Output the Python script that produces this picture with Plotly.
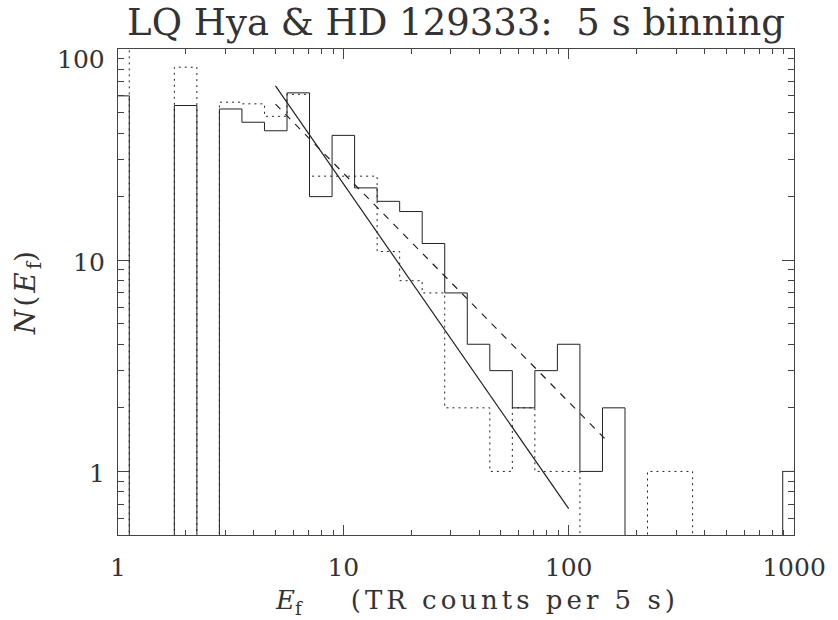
import math
import plotly.graph_objects as go

# ---- data ----
# histogram bins: centres in log10(E_f), bin width 0.1 dex
bin_log_centres = [0.0, 0.1, 0.2, 0.3, 0.4, 0.5, 0.6, 0.7, 0.8, 0.9,
                   1.0, 1.1, 1.2, 1.3, 1.4, 1.5, 1.6, 1.7, 1.8, 1.9,
                   2.0, 2.1, 2.2, 2.3, 2.4, 2.5, 2.6, 2.7, 2.8, 2.9, 3.0]
bin_width_dex = 0.1
counts_solid = [60, 0, 0, 54, 0, 52, 45, 41, 62, 20,
                39, 22, 19, 17, 12, 7, 4, 3, 2, 3,
                4, 1, 2, 0, 0, 0, 0, 0, 0, 0, 1]
counts_dotted = [130, 0, 0, 82, 0, 56, 55, 48, 61, 25,
                 25, 25, 11, 8, 7, 2, 2, 1, 2, 1,
                 1, 0, 0, 0, 1, 1, 0, 0, 0, 0, 0]

# power-law fits (end points)
fit_solid_E = [5.0, 100.0]
fit_solid_N = [66.9, 0.667]
fit_dashed_E = [5.0, 150.0]
fit_dashed_N = [54.8, 1.375]

x_tickvals = [1, 10, 100, 1000]
x_ticktext = ["1", "10", "100", "1000"]
y_tickvals = [1, 10, 100]
y_ticktext = ["1", "10", "100"]

title_text = "LQ Hya &amp; HD 129333:  5 s binning"
SUB_F = '<span style="font-size:70%;baseline-shift:-0.32em">f</span>'
x_title = ('<i>E</i>' + SUB_F +
           '<span style="letter-spacing:4px">    (TR counts per 5 s)</span>')
y_title = ('<span style="letter-spacing:3px"><i>N</i>(<i>E</i></span>' + SUB_F +
           '<span style="letter-spacing:3px">)</span>')

# ---- helpers ----
FLOOR = 1e-3  # empty bins drawn below the axis


def steps(counts):
    xs = [10 ** (c - bin_width_dex / 2) for c in bin_log_centres]
    xs.append(10 ** (bin_log_centres[-1] + bin_width_dex / 2))
    ys = [v if v > 0 else FLOOR for v in counts]
    ys.append(ys[-1])
    return xs, ys


def minor_vals(lo_exp, hi_exp, lo, hi):
    out = []
    for e in range(lo_exp, hi_exp + 1):
        for d in range(2, 10):
            v = d * 10 ** e
            if lo <= v <= hi:
                out.append(v)
    return out


INK = "#222222"
TXT = "#333333"
FONT = "DejaVu Serif"
W, H = 838, 620
L, R, T, B = 118, 35, 49, 85
PW, PH = W - L - R, H - T - B

fig = go.Figure()
xs, ys = steps(counts_dotted)
fig.add_trace(go.Scatter(x=xs, y=ys, mode="lines", line=dict(shape="hv", color=INK, width=1, dash="2px,4px"),
                         showlegend=False, hoverinfo="skip"))
xs, ys = steps(counts_solid)
fig.add_trace(go.Scatter(x=xs, y=ys, mode="lines", line=dict(shape="hv", color=INK, width=1),
                         showlegend=False, hoverinfo="skip"))
fig.add_trace(go.Scatter(x=fit_solid_E, y=fit_solid_N, mode="lines", line=dict(color=INK, width=1.2),
                         showlegend=False, hoverinfo="skip"))
fig.add_trace(go.Scatter(x=fit_dashed_E, y=fit_dashed_N, mode="lines",
                         line=dict(color=INK, width=1.2, dash="7px,7px"),
                         showlegend=False, hoverinfo="skip"))

axis_common = dict(type="log", showgrid=False, zeroline=False, showline=True, linecolor="#444444",
                   linewidth=1, mirror="allticks", ticks="inside", tickcolor="#444444",
                   tickfont=dict(family=FONT, size=25, color=TXT), tickmode="array")

fig.update_xaxes(**axis_common, range=[0, 3], tickvals=x_tickvals, ticktext=x_ticktext, ticklen=10,
                 ticklabelstandoff=10,
                 minor=dict(ticks="inside", ticklen=5, tickcolor="#444444", showgrid=False,
                            tickmode="array", tickvals=minor_vals(0, 2, 1, 1000)))
fig.update_yaxes(**axis_common, range=[math.log10(0.5), 2], tickvals=y_tickvals, ticktext=y_ticktext,
                 ticklen=12, showticklabels=False,
                 minor=dict(ticks="inside", ticklen=6, tickcolor="#444444", showgrid=False,
                            tickmode="array", tickvals=minor_vals(-1, 1, 0.5, 100)))

# y tick labels (IDL places the top label just inside the box)
label_shift = {100: -10, 10: -2, 1: -2}
for v, t in zip(y_tickvals, y_ticktext):
    fig.add_annotation(x=0, xref="paper", xanchor="right", xshift=-11,
                       y=math.log10(v), yref="y", yanchor="middle", yshift=label_shift[v],
                       text=t, showarrow=False, font=dict(family=FONT, size=25, color=TXT))

# axis titles
fig.add_annotation(x=(482 - L) / PW, xref="paper", y=-(602 - (T + PH)) / PH, yref="paper",
                   text=x_title, showarrow=False, xanchor="center", yanchor="middle",
                   font=dict(family=FONT, size=26, color=TXT))
fig.add_annotation(x=-(L - 26) / PW, xref="paper", y=0.5, yref="paper", text=y_title, showarrow=False,
                   textangle=-90, xanchor="center", yanchor="middle",
                   font=dict(family=FONT, size=28, color=TXT))

fig.update_layout(
    width=W, height=H,
    margin=dict(l=L, r=R, t=T, b=B),
    paper_bgcolor="white", plot_bgcolor="white",
    title=dict(text=title_text, font=dict(family=FONT, size=37, color=TXT),
               x=0.5, xref="paper", xanchor="center", y=1 - 22 / H, yref="container", yanchor="middle"),
)

fig.write_html("out.html")
